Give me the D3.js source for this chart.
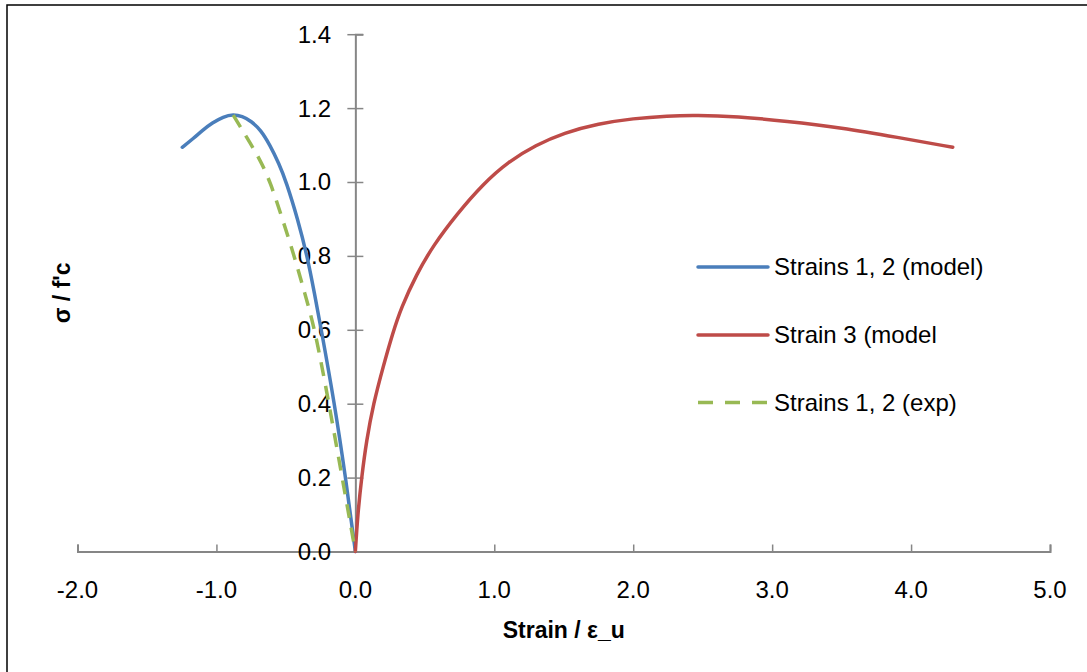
<!DOCTYPE html>
<html>
<head>
<meta charset="utf-8">
<script src="https://cdn.jsdelivr.net/npm/d3@7"></script>
<style>
  html, body { margin: 0; padding: 0; background: #fff; }
  svg { display: block; }
  text { font-family: "Liberation Sans", Arial, sans-serif; fill: #000; }
</style>
</head>
<body>
<svg id="chart" width="1087" height="672"></svg>
<script>
// ---- data ----
const xTickValues = [-2, -1, 0, 1, 2, 3, 4, 5];
const yTickValues = [0, 0.2, 0.4, 0.6, 0.8, 1.0, 1.2, 1.4];

const seriesNames = ["Strains 1, 2 (model)", "Strain 3 (model", "Strains 1, 2 (exp)"];

const lateralModelX = [0, -0.07, -0.15, -0.245, -0.295, -0.347, -0.415, -0.497, -0.55, -0.615, -0.68, -0.75, -0.815, -0.879, -0.95, -1.03, -1.10, -1.165, -1.246];
const lateralModelY = [0, 0.2, 0.4, 0.6, 0.7, 0.8, 0.9, 1.0, 1.05, 1.10, 1.14, 1.165, 1.178, 1.183, 1.177, 1.160, 1.140, 1.118, 1.094];

const axialModelX = [0, 0.017, 0.045, 0.08, 0.13, 0.20, 0.268, 0.33, 0.44, 0.56, 0.73, 0.92, 1.10, 1.30, 1.50, 1.75, 2.00, 2.25, 2.45, 2.75, 3.10, 3.50, 3.90, 4.30];
const axialModelY = [0, 0.1, 0.2, 0.3, 0.4, 0.5, 0.59, 0.66, 0.75, 0.828, 0.913, 0.995, 1.055, 1.10, 1.133, 1.158, 1.172, 1.179, 1.181, 1.177, 1.165, 1.147, 1.121, 1.094];

const lateralExpX = [0, -0.095, -0.19, -0.29, -0.365, -0.44, -0.525, -0.612, -0.685, -0.78, -0.879];
const lateralExpY = [0, 0.2, 0.4, 0.6, 0.7, 0.8, 0.9, 1.0, 1.06, 1.12, 1.181];

const colors = ["#4A7EBB", "#BE4B48", "#98B954"];

// ---- layout ----
const svg = d3.select("#chart");
const W = 1087, H = 672;
const plot = { left: 77.5, right: 1050, top: 34.2, bottom: 551.5 };

const x = d3.scaleLinear().domain([-2, 5]).range([plot.left, plot.right]);
const y = d3.scaleLinear().domain([0, 1.4]).range([plot.bottom, plot.top]);

const fmt = d => d3.format(".1f")(d).replace("\u2212", "-");

// outer border
svg.append("rect")
  .attr("x", 7).attr("y", 5)
  .attr("width", W).attr("height", H)
  .attr("fill", "#fff")
  .attr("stroke", "#000").attr("stroke-width", 1.5);

const axisColor = "#868686";
const fs = 24;

// x axis (at y = 0), ticks pointing up
const xAxis = d3.axisTop(x).tickValues(xTickValues).tickSize(7).tickFormat("");
const gx = svg.append("g").attr("transform", `translate(0,${y(0)})`).call(xAxis);
gx.select(".domain").attr("stroke", axisColor).attr("stroke-width", 2);
gx.selectAll(".tick line").attr("stroke", axisColor).attr("stroke-width", 1.5);

// x tick labels
svg.append("g").selectAll("text")
  .data(xTickValues).join("text")
  .attr("x", d => x(d))
  .attr("y", 598)
  .attr("text-anchor", "middle")
  .attr("font-size", fs)
  .text(fmt);

// y axis (at x = 0), cross ticks
const yAxis = d3.axisRight(y).tickValues(yTickValues).tickSize(8).tickFormat("");
const gy = svg.append("g").attr("transform", `translate(${x(0)},0)`).call(yAxis);
gy.select(".domain").attr("stroke", axisColor).attr("stroke-width", 2);
gy.selectAll(".tick line").attr("stroke", axisColor).attr("stroke-width", 1.5).attr("x1", -8);

svg.append("g").selectAll("text")
  .data(yTickValues).join("text")
  .attr("x", 331)
  .attr("y", d => y(d))
  .attr("dy", "0.35em")
  .attr("text-anchor", "end")
  .attr("font-size", fs)
  .text(fmt);

// axis titles
svg.append("text")
  .attr("x", (plot.left + plot.right) / 2)
  .attr("y", 638)
  .attr("text-anchor", "middle")
  .attr("font-size", 23)
  .attr("font-weight", "bold")
  .text("Strain / ε_u");

svg.append("text")
  .attr("transform", `translate(70,${(plot.top + plot.bottom) / 2}) rotate(-90)`)
  .attr("text-anchor", "middle")
  .attr("font-size", 23)
  .attr("font-weight", "bold")
  .text("σ / f'c");

// ---- series ----
const line = d3.line()
  .x(d => x(d[0]))
  .y(d => y(d[1]))
  .curve(d3.curveBasis);

const series = [
  { xs: lateralModelX, ys: lateralModelY, color: colors[0], dash: null, reverse: false },
  { xs: axialModelX, ys: axialModelY, color: colors[1], dash: null, reverse: false },
  { xs: lateralExpX, ys: lateralExpY, color: colors[2], dash: "14,10", reverse: true }
];

series.forEach(s => {
  let pts = s.xs.map((v, i) => [v, s.ys[i]]);
  if (s.reverse) pts = pts.reverse();
  svg.append("path")
    .attr("d", line(pts))
    .attr("fill", "none")
    .attr("stroke", s.color)
    .attr("stroke-width", 3.5)
    .attr("stroke-linecap", s.dash ? "butt" : "round")
    .attr("stroke-linejoin", "round")
    .attr("stroke-dasharray", s.dash);
});

// ---- legend ----
const legendY = [267, 335, 402.5];
const lg = svg.append("g");
seriesNames.forEach((name, i) => {
  const s = series[i];
  lg.append("line")
    .attr("x1", 698).attr("x2", 768)
    .attr("y1", legendY[i]).attr("y2", legendY[i])
    .attr("stroke", s.color)
    .attr("stroke-width", 3.5)
    .attr("stroke-linecap", s.dash ? "butt" : "round")
    .attr("stroke-dasharray", s.dash ? "15,12" : null);
  lg.append("text")
    .attr("x", 774)
    .attr("y", legendY[i])
    .attr("dy", "0.35em")
    .attr("font-size", fs)
    .text(name);
});
</script>
</body>
</html>
